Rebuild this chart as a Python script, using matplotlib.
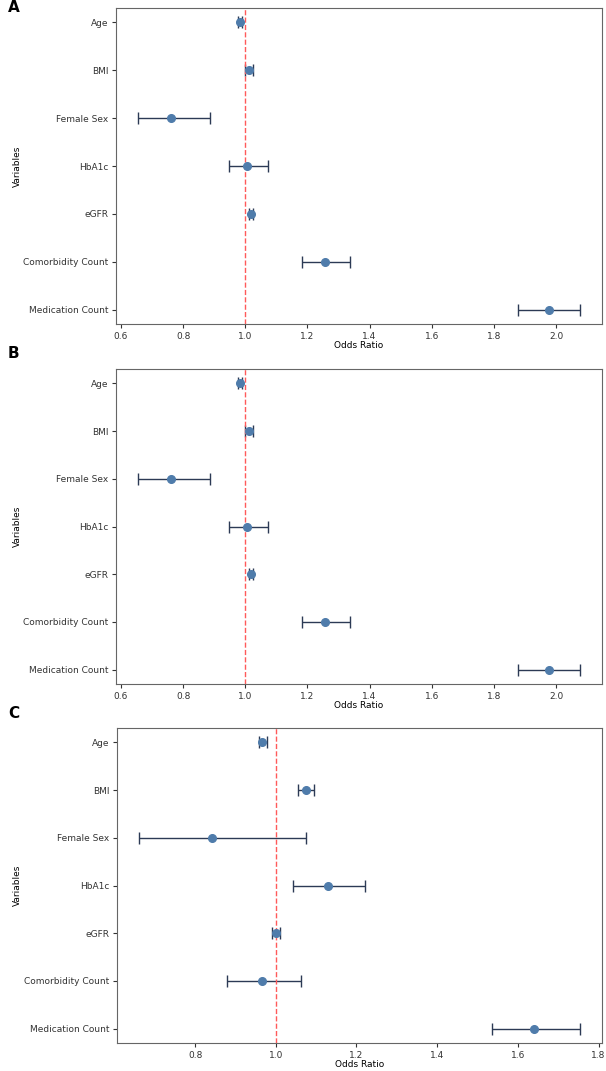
import matplotlib.pyplot as plt
import numpy as np

variables = ["Age", "BMI", "Female Sex", "HbA1c", "eGFR", "Comorbidity Count", "Medication Count"]

# panel A / B (same model)
or_ab = [0.983, 1.012, 0.761, 1.006, 1.018, 1.257, 1.978]
lo_ab = [0.977, 1.000, 0.655, 0.948, 1.012, 1.183, 1.878]
hi_ab = [0.989, 1.025, 0.886, 1.072, 1.024, 1.336, 2.077]

# panel C
or_c = [0.967, 1.074, 0.843, 1.129, 1.000, 0.967, 1.641]
lo_c = [0.958, 1.056, 0.661, 1.043, 0.990, 0.879, 1.537]
hi_c = [0.977, 1.094, 1.075, 1.222, 1.010, 1.062, 1.754]

panels = [("A", or_ab, lo_ab, hi_ab), ("B", or_ab, lo_ab, hi_ab), ("C", or_c, lo_c, hi_c)]

fig = plt.figure(figsize=(6.06, 10.71), dpi=100)
W, H = 606, 1071
# axes boxes in pixels: (left, top, right, bottom)
boxes = [(116, 8, 602, 324), (116, 369, 602, 684), (117, 728, 602, 1043)]
label_y = [8, 354, 714]

for (name, ors, lo, hi), (l, t, r, b), ly in zip(panels, boxes, label_y):
    ax = fig.add_axes([l / W, 1 - b / H, (r - l) / W, (b - t) / H])
    ors = np.array(ors)
    err = np.vstack([ors - np.array(lo), np.array(hi) - ors])
    y = np.arange(len(variables))
    ax.errorbar(ors, y, xerr=err, fmt="o", color="#4f7cab", markersize=5.5,
                ecolor="#2c3a55", elinewidth=1, capsize=4, capthick=1)
    ax.axvline(1.0, color="#ff5a5a", linestyle="--", linewidth=1)
    ax.set_yticks(y)
    ax.set_yticklabels(variables)
    ax.invert_yaxis()
    ax.set_xlabel("Odds Ratio", fontsize=6.5, labelpad=0.5)
    ax.set_ylabel("Variables", fontsize=6.5)
    ax.yaxis.set_label_coords((22 - l) / (r - l), 0.5)
    ax.tick_params(labelsize=6.5, length=3, width=0.8, colors="#333333", pad=2.5)
    for s in ax.spines.values():
        s.set_color("#666666")
        s.set_linewidth(0.8)
    fig.text(8 / W, 1 - ly / H, name, fontsize=11, fontweight="bold", va="center", ha="left")

fig.savefig("out.png", dpi=100)
